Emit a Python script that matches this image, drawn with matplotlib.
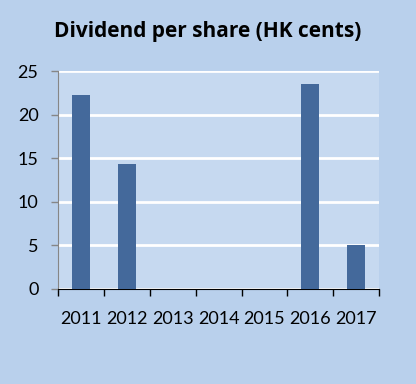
import numpy as np
import matplotlib.pyplot as plt
from matplotlib.ticker import FixedLocator

# Dividend per share data
years = ['2011', '2012', '2013', '2014', '2015', '2016', '2017']
dividend = [22.3, 14.3, 0, 0, 0, 23.5, 5.0]

plt.rcParams['font.family'] = ['Lato', 'DejaVu Sans']

fig = plt.figure(figsize=(4.16, 3.84), dpi=100, facecolor='#b9d0ec')
ax = fig.add_axes([0.1394, 0.2474, 0.772, 0.5677], facecolor='#c6d9f0')

x = np.arange(len(years))
ax.bar(x, dividend, width=0.39, color='#44699b', zorder=3)

ax.set_xlim(-0.5, len(years) - 0.5)
ax.set_ylim(0, 25)
ax.set_yticks([0, 5, 10, 15, 20, 25])
ax.yaxis.grid(True, color='white', linewidth=2.0, zorder=1)
ax.set_axisbelow(True)

# category labels in the middle, tick marks on the boundaries like Excel
ax.set_xticks(x)
ax.set_xticklabels(years)
ax.xaxis.set_minor_locator(FixedLocator(np.arange(-0.5, len(years), 1)))
ax.tick_params(axis='x', which='major', length=0, pad=16, labelsize=13)
ax.tick_params(axis='x', which='minor', length=5, width=1, color='black', direction='out')
ax.tick_params(axis='y', length=5, width=1, color='#868686', pad=9, labelsize=13)

for side in ['top', 'right']:
    ax.spines[side].set_visible(False)
ax.spines['left'].set_color('#868686')
ax.spines['bottom'].set_color('black')

fig.text(0.5, 0.917, 'Dividend per share (HK cents)', ha='center', va='center',
         fontsize=15, fontweight='bold', family=['Open Sans', 'DejaVu Sans'])

fig.savefig('out.png', dpi=100, facecolor=fig.get_facecolor())
